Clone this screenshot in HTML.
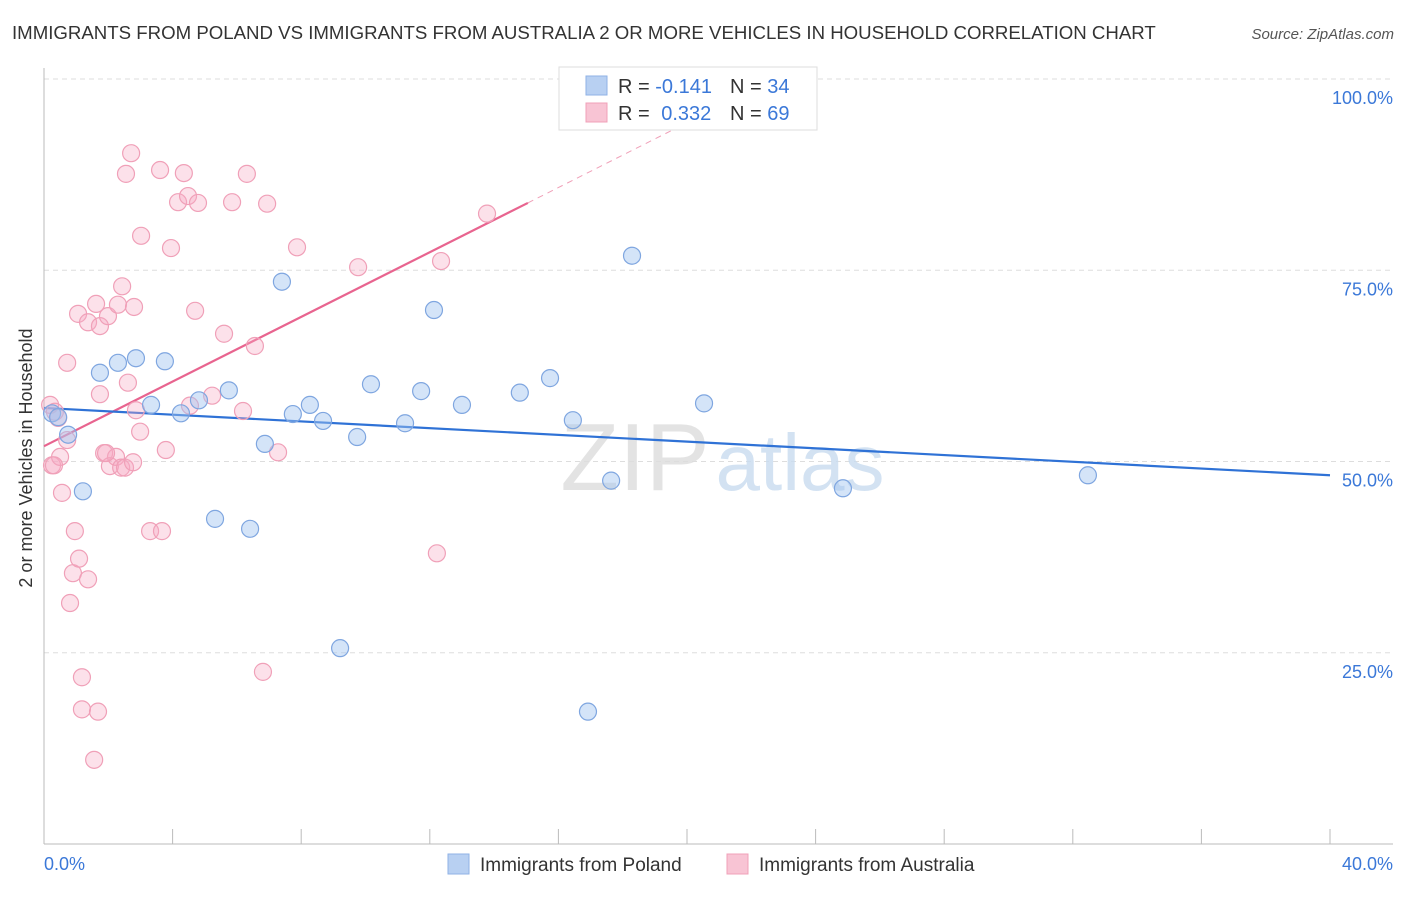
<!DOCTYPE html>
<html><head><meta charset="utf-8"><style>
body{margin:0;background:#fff;font-family:"Liberation Sans",sans-serif;}
svg text{font-family:"Liberation Sans",sans-serif;}
</style></head><body>
<svg id="chart" width="1406" height="892">
<text x="12" y="39" font-size="18.65" fill="#333">IMMIGRANTS FROM POLAND VS IMMIGRANTS FROM AUSTRALIA 2 OR MORE VEHICLES IN HOUSEHOLD CORRELATION CHART</text>
<text x="1394" y="39" font-size="15" fill="#555" font-style="italic" text-anchor="end">Source: ZipAtlas.com</text>
<text x="32" y="458" font-size="18" fill="#333" text-anchor="middle" transform="rotate(-90 32 458)">2 or more Vehicles in Household</text>
<g id="grid"></g>
<g><text x="635" y="490" font-size="96" fill="#ddd" font-family="Liberation Serif" text-anchor="middle" opacity="0.8">ZIP</text><text x="800" y="490" font-size="80" fill="#c9dcf0" text-anchor="middle" opacity="0.8">atlas</text></g>
<g id="lines"></g>
<g id="points"></g>
<g>
<rect x="559" y="67" width="258" height="63" fill="#fff" stroke="#ddd"/>
<rect x="586" y="76" width="21" height="19" fill="#b8d0f2" stroke="#8fb2e6"/>
<rect x="586" y="103" width="21" height="19" fill="#f8c4d4" stroke="#f0a0b8"/>
<text x="618" y="93" font-size="20" fill="#333">R = <tspan fill="#3b78d8">-0.141</tspan></text>
<text x="730" y="93" font-size="20" fill="#333">N = <tspan fill="#3b78d8">34</tspan></text>
<text x="618" y="120" font-size="20" fill="#333">R = <tspan fill="#3b78d8" dx="6">0.332</tspan></text>
<text x="730" y="120" font-size="20" fill="#333">N = <tspan fill="#3b78d8">69</tspan></text>
</g>
<g>
<rect x="448" y="854" width="21" height="20" fill="#b8d0f2" stroke="#8fb2e6"/>
<text x="480" y="871" font-size="19" fill="#333">Immigrants from Poland</text>
<rect x="727" y="854" width="21" height="20" fill="#f8c4d4" stroke="#f0a0b8"/>
<text x="759" y="871" font-size="19" fill="#333">Immigrants from Australia</text>
</g>
</svg>
<script>
const xTickVals=[0,4,8,12,16,20,24,28,32,36,40];
const yTickVals=[25,50,75,100];
const yTickLabels=["25.0%","50.0%","75.0%","100.0%"];
const xEndLabels=["0.0%","40.0%"];
const polandX=[0.25,0.44,0.75,1.21,1.74,2.30,2.86,3.33,3.76,4.26,4.82,5.32,5.75,6.41,6.87,7.40,7.74,8.27,8.68,9.21,9.74,10.17,11.23,11.73,12.13,13.0,14.8,15.74,16.45,16.92,17.64,18.29,20.53,24.85,32.47];
const polandY=[56.3,55.8,53.5,46.1,61.6,62.9,63.5,57.4,63.1,56.3,58.0,42.5,59.3,41.2,52.3,73.5,56.2,57.4,55.3,25.6,53.2,60.1,55.0,59.2,69.8,57.4,59.0,60.9,55.4,17.3,47.5,76.9,57.6,46.5,48.2];
const ausX=[0.19,0.25,0.34,0.44,0.5,0.56,0.72,0.72,0.81,0.9,0.96,1.09,1.18,1.18,1.37,1.56,1.68,1.06,1.37,1.62,1.74,1.74,1.87,1.99,2.05,2.24,2.3,2.4,2.43,2.52,2.55,2.61,2.71,2.77,2.8,2.86,2.99,3.02,3.3,3.61,3.67,3.79,3.95,4.17,4.35,4.48,4.54,4.7,4.79,5.23,5.6,5.85,6.19,6.31,6.56,6.81,6.94,7.28,7.87,9.77,12.22,12.35,13.78,0.31,1.93];
const ausY=[57.4,49.5,56.5,55.7,50.6,45.9,52.8,62.9,31.5,35.4,40.9,37.3,21.8,17.6,34.6,11.0,17.3,69.3,68.2,70.6,67.7,58.8,51.1,69.0,49.4,50.6,70.5,49.2,72.9,49.2,87.6,60.3,90.3,49.9,70.2,56.7,53.9,79.5,40.9,88.1,40.9,51.5,77.9,83.9,87.7,84.7,57.3,69.7,83.8,58.6,66.7,83.9,56.6,87.6,65.1,22.5,83.7,51.2,78.0,75.4,38.0,76.2,82.4,49.5,51.1];
const polandTrend=[[0,57.0],[40,48.2]];
const ausTrendSolid=[[0,52.0],[15.05,83.8]];
const ausTrendDash=[[15.05,83.8],[22.7,100]];
const X=v=>44+v*32.15, Y=v=>844-v*7.65;
const NS="http://www.w3.org/2000/svg";
function mk(tag,attrs,parent){const e=document.createElementNS(NS,tag);for(const k in attrs)e.setAttribute(k,attrs[k]);parent.appendChild(e);return e;}
const grid=document.getElementById('grid');
yTickVals.forEach((v,i)=>{
 const l=mk('line',{x1:44,x2:1393,y1:Y(v),y2:Y(v),stroke:'#ddd','stroke-dasharray':'5,4'},grid);
 
 
 const t=mk('text',{x:1393,y:Y(v)+25,'font-size':18,fill:'#3b78d8','text-anchor':'end'},grid);
 t.textContent=yTickLabels[i];
 
 
});
mk('line',{x1:44,x2:44,y1:68,y2:844,stroke:'#bbb'},grid);
mk('line',{x1:44,x2:1393,y1:844,y2:844,stroke:'#bbb'},grid);
xTickVals.forEach(v=>{
 const l=mk('line',{x1:X(v),x2:X(v),y1:829,y2:844,stroke:'#bbb'},grid);
 
 
});
[[0,'start',44],[40,'end',1393]].forEach((d,i)=>{
 const t=mk('text',{x:d[2],y:870,'font-size':18,fill:'#3b78d8','text-anchor':d[1]},grid);
 t.textContent=xEndLabels[i];
 
 
});
const pts=document.getElementById('points');
ausX.forEach((x,i)=>{
 const c=mk('circle',{cx:X(x),cy:Y(ausY[i]),r:8.5,fill:'rgba(246,170,195,0.35)',stroke:'#f0a0b8','stroke-width':1.2},pts);
 
 
});
polandX.forEach((x,i)=>{
 const c=mk('circle',{cx:X(x),cy:Y(polandY[i]),r:8.5,fill:'rgba(160,195,240,0.45)',stroke:'#7fa6e0','stroke-width':1.2},pts);
 
 
});
const ln=document.getElementById('lines');
const a=mk('line',{x1:X(ausTrendDash[0][0]),y1:Y(ausTrendDash[0][1]),x2:X(ausTrendDash[1][0]),y2:Y(ausTrendDash[1][1]),stroke:'#f0a0b8','stroke-width':1,'stroke-dasharray':'6,5'},ln);


const b=mk('line',{x1:X(ausTrendSolid[0][0]),y1:Y(ausTrendSolid[0][1]),x2:X(ausTrendSolid[1][0]),y2:Y(ausTrendSolid[1][1]),stroke:'#e8648f','stroke-width':2.2},ln);


const p=mk('line',{x1:X(polandTrend[0][0]),y1:Y(polandTrend[0][1]),x2:X(polandTrend[1][0]),y2:Y(polandTrend[1][1]),stroke:'#2f72d6','stroke-width':2.2},ln);


</script>
</body></html>
